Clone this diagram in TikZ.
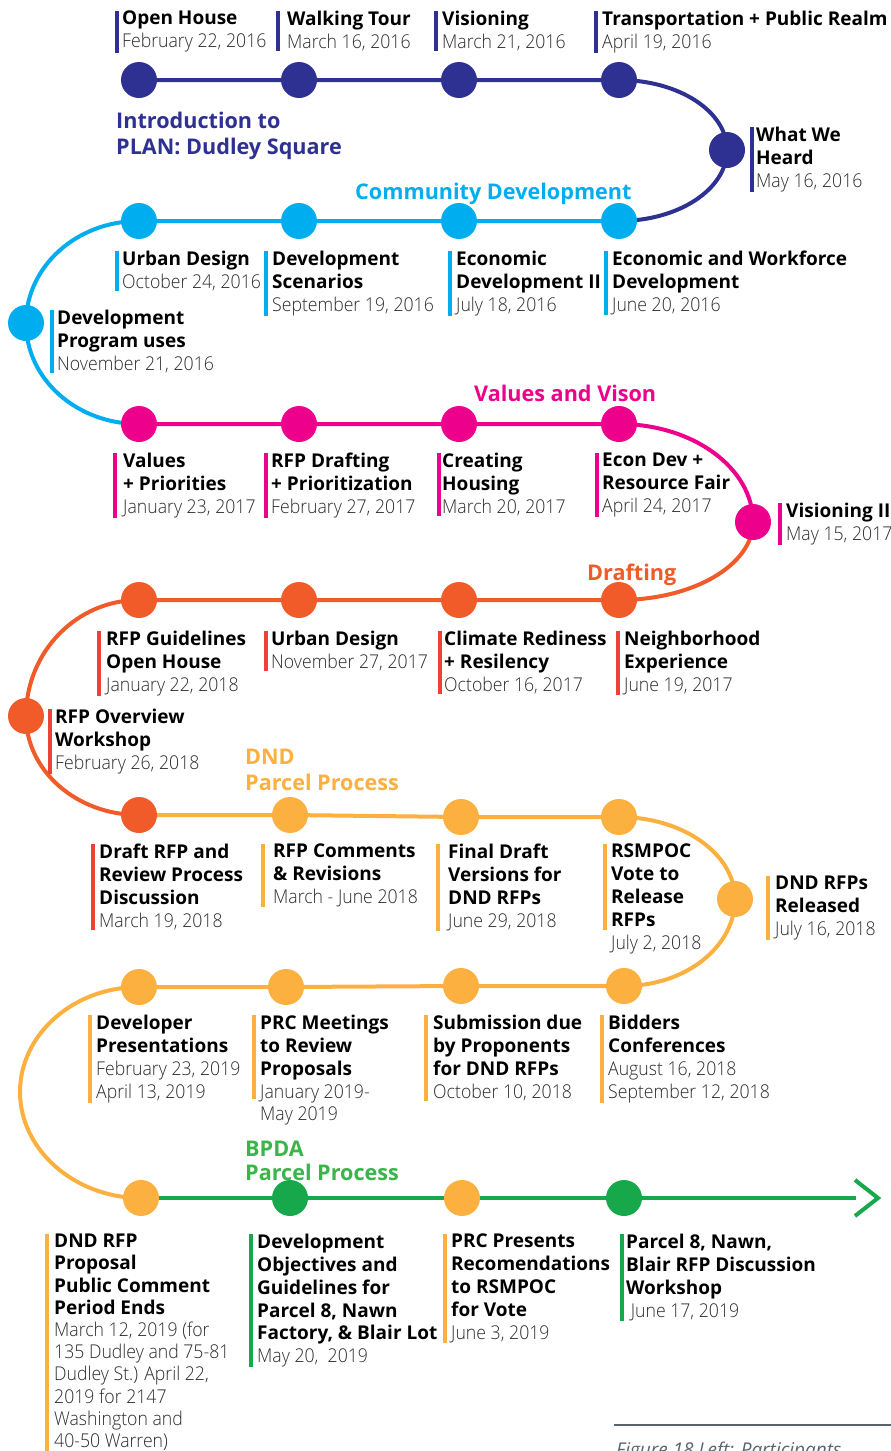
\documentclass[tikz,border=0pt]{standalone}
\usepackage{fontspec}
\setmainfont{Open Sans}
\IfFontExistsTF{Open Sans Light}{\newfontfamily\evlight{Open Sans Light}[FakeStretch=0.93]}{\newfontfamily\evlight{Open Sans}[FakeStretch=0.9]}
\usetikzlibrary{backgrounds}
\definecolor{cnavy}{HTML}{2E3192}
\definecolor{ccyan}{HTML}{00AEEF}
\definecolor{cmag}{HTML}{EC008C}
\definecolor{corg}{HTML}{F15A29}
\definecolor{cred}{HTML}{EF4136}
\definecolor{cyel}{HTML}{FBB040}
\definecolor{cgrn}{HTML}{17A84B}
\definecolor{cgrnt}{HTML}{39B54A}
\definecolor{cdate}{HTML}{2B2B2B}
\definecolor{cfig}{HTML}{58656F}
\newcommand\evt[1]{{\bfseries #1}}
\newcommand\evd[1]{{\evlight\color{cdate}#1}}
\newcommand\evbar[3][5]{\draw[line width=4pt,#3] ([xshift=-#1pt]#2.north west) -- ([xshift=-#1pt]#2.south west);}
\tikzset{
  dot/.style={circle,fill=#1,minimum size=36pt,inner sep=0pt},
  track/.style={line width=4pt,draw=#1},
  lab/.style={anchor=north west,align=left,inner sep=0pt,font=\fontsize{19}{22.8}\selectfont},
  cat/.style={anchor=north west,align=left,inner sep=0pt,text=#1,font=\fontsize{21.6}{25.8}\selectfont\bfseries},
}
\begin{document}
\begin{tikzpicture}[x=1pt,y=-1pt]
\useasboundingbox (0,0) rectangle (891,1451);
% dots
\node[dot=cnavy] (a1) at (139,80) {};
\node[dot=cnavy] (a2) at (299,80) {};
\node[dot=cnavy] (a3) at (459,80) {};
\node[dot=cnavy] (a4) at (619,80) {};
\node[dot=cnavy] (ah) at (727,150) {};
\node[dot=ccyan] (b1) at (139,221) {};
\node[dot=ccyan] (b2) at (299,221) {};
\node[dot=ccyan] (b3) at (459,221) {};
\node[dot=ccyan] (b4) at (619,221) {};
\node[dot=ccyan] (bd) at (26,323) {};
\node[dot=cmag] (c1) at (139,424) {};
\node[dot=cmag] (c2) at (299,424) {};
\node[dot=cmag] (c3) at (459,424) {};
\node[dot=cmag] (c4) at (619,424) {};
\node[dot=cmag] (cv) at (753,522) {};
\node[dot=corg] (d1) at (139,600) {};
\node[dot=corg] (d2) at (299,600) {};
\node[dot=corg] (d3) at (459,600) {};
\node[dot=corg] (d4) at (619,600) {};
\node[dot=corg] (dr) at (26,716) {};
\node[dot=corg] (e1) at (139,815) {};
\node[dot=cyel] (e2) at (290,815) {};
\node[dot=cyel] (e3) at (461,817) {};
\node[dot=cyel] (e4) at (619,817) {};
\node[dot=cyel] (ed) at (735,899) {};
\node[dot=cyel] (f1) at (139,987) {};
\node[dot=cyel] (f2) at (286,987) {};
\node[dot=cyel] (f3) at (461,986) {};
\node[dot=cyel] (f4) at (624,986) {};
\coordinate (fl) at (20,1092);
\node[dot=cyel] (g1) at (141,1198) {};
\node[dot=cgrn] (g2) at (290,1198) {};
\node[dot=cyel] (g3) at (462,1198) {};
\node[dot=cgrn] (g4) at (624,1198) {};
\coordinate (gend) at (856,1198);
\coordinate (gtip) at (878,1198);
% connectors
\begin{scope}[on background layer]
\draw[track=cnavy] (a1.center) -- (a2.center) -- (a3.center) -- (a4.center)
  .. controls +(59.6,0) and +(0,-38.7) .. (ah.center)
  .. controls +(0,39.2) and +(59.6,0) .. (b4.center);
\draw[track=ccyan] (b4.center) -- (b3.center) -- (b2.center) -- (b1.center)
  .. controls +(-62.4,0) and +(0,-56.3) .. (bd.center)
  .. controls +(0,56) and +(-62.4,0) .. (c1.center);
\draw[track=cmag] (c1.center) -- (c2.center) -- (c3.center) -- (c4.center)
  .. controls +(74,0) and +(0,-54) .. (cv.center);
\draw[track=corg] (cv.center) .. controls +(0,43) and +(74,0) .. (d4.center)
  -- (d3.center) -- (d2.center) -- (d1.center)
  .. controls +(-62.4,0) and +(0,-64) .. (dr.center)
  .. controls +(0,54.7) and +(-62.4,0) .. (e1.center);
\draw[track=cyel] (e1.center) -- (e2.center) -- (e3.center) -- (e4.center)
  .. controls +(64,0) and +(0,-45) .. (ed.center)
  .. controls +(0,48) and +(61.3,0) .. (f4.center)
  -- (f3.center) -- (f2.center) -- (f1.center)
  .. controls +(-65,0) and +(0,-58) .. (fl)
  .. controls +(0,58) and +(-66,0) .. (g1.center);
\draw[track=cgrn] (g1.center) -- (g2.center) -- (g3.center) -- (g4.center) -- (gend);
\end{scope}
\draw[track=cgrn] ([shift={(-23,-18)}]gtip) -- (gtip) -- ([shift={(-23,18)}]gtip);
% category labels
\node[cat=cnavy] (k1) at (116,112) {Introduction to\\PLAN: Dudley Square};
\node[cat=ccyan] (k2) at (355,183) {Community Development};
\node[cat=cmag] (k3) at (474,385) {Values and Vison};
\node[cat=corg] (k4) at (587,564) {Drafting};
\node[cat=cyel] (k5) at (245,749) {DND\\Parcel Process};
\node[cat=cgrnt,font=\fontsize{21.6}{23.5}\selectfont\bfseries] (k6) at (245,1141) {BPDA\\Parcel Process};
% row 1
\node[lab] (l11) at (122,11) {\evt{Open House}\\\evd{February 22, 2016}};
\node[lab] (l12) at (287,11) {\evt{Walking Tour}\\\evd{March 16, 2016}};
\node[lab] (l13) at (442,11) {\evt{Visioning}\\\evd{March 21, 2016}};
\node[lab] (l14) at (602,11) {\evt{Transportation + Public Realm}\\\evd{April 19, 2016}};
\node[lab] (lh) at (756,127) {\evt{What We}\\\evt{Heard}\\\evd{May 16, 2016}};
\evbar{l11}{cnavy}\evbar[9]{l12}{cnavy}\evbar[6]{l13}{cnavy}\evbar[6]{l14}{cnavy}\evbar[4]{lh}{cnavy}
% row 2
\node[lab] (l21) at (122,251) {\evt{Urban Design}\\\evd{October 24, 2016}};
\node[lab] (l22) at (272,251) {\evt{Development}\\\evt{Scenarios}\\\evd{September 19, 2016}};
\node[lab] (l23) at (456,251) {\evt{Economic}\\\evt{Development II}\\\evd{July 18, 2016}};
\node[lab] (l24) at (612,251) {\evt{Economic and Workforce}\\\evt{Development}\\\evd{June 20, 2016}};
\node[lab] (ld) at (57,310) {\evt{Development}\\\evt{Program uses}\\\evd{November 21, 2016}};
\evbar{l21}{ccyan}\evbar[6]{l22}{ccyan}\evbar[6]{l23}{ccyan}\evbar[6]{l24}{ccyan}\evbar{ld}{ccyan}
% row 3
\node[lab] (l31) at (123,453) {\evt{Values}\\\evt{+ Priorities}\\\evd{January 23, 2017}};
\node[lab] (l32) at (271,453) {\evt{RFP Drafting}\\\evt{+ Prioritization}\\\evd{February 27, 2017}};
\node[lab] (l33) at (442,453) {\evt{Creating}\\\evt{Housing}\\\evd{March 20, 2017}};
\node[lab] (l34) at (602,453) {\evt{Econ Dev +}\\\evt{Resource Fair}\\\evd{April 24, 2017}};
\node[lab] (lv) at (786,503) {\evt{Visioning II}\\\evd{May 15, 2017}};
\evbar[8]{l31}{cmag}\evbar{l32}{cmag}\evbar[3]{l33}{cmag}\evbar{l34}{cmag}\evbar[6]{lv}{cmag}
% row 4
\node[lab] (l41) at (106,631) {\evt{RFP Guidelines}\\\evt{Open House}\\\evd{January 22, 2018}};
\node[lab] (l42) at (271,631) {\evt{Urban Design}\\\evd{November 27, 2017}};
\node[lab] (l43) at (444,631) {\evt{Climate Rediness}\\\evt{+ Resilency}\\\evd{October 16, 2017}};
\node[lab] (l44) at (624,631) {\evt{Neighborhood}\\\evt{Experience}\\\evd{June 19, 2017}};
\node[lab] (lr) at (55,709) {\evt{RFP Overview}\\\evt{Workshop}\\\evd{February 26, 2018}};
\evbar[7]{l41}{cred}\evbar{l42}{cred}\evbar[4]{l43}{cred}\evbar[6]{l44}{cred}\evbar{lr}{cred}
% row 5
\node[lab] (l51) at (99,844) {\evt{Draft RFP and}\\\evt{Review Process}\\\evt{Discussion}\\\evd{March 19, 2018}};
\node[lab] (l52) at (273,844) {\evt{RFP Comments}\\\evt{\& Revisions}\\\evd{March - June 2018}};
\node[lab] (l53) at (448,844) {\evt{Final Draft}\\\evt{Versions for}\\\evt{DND RFPs}\\\evd{June 29, 2018}};
\node[lab] (l54) at (611,844) {\evt{RSMPOC}\\\evt{Vote to}\\\evt{Release}\\\evt{RFPs}\\\evd{July 2, 2018}};
\node[lab] (ldd) at (775,876) {\evt{DND RFPs}\\\evt{Released}\\\evd{July 16, 2018}};
\evbar[6]{l51}{cred}\evbar[10]{l52}{cyel}\evbar[10]{l53}{cyel}\evbar[7]{ldd}{cyel}
\draw[line width=4pt,cyel] ([xshift=-6pt]l54.north west) -- +(0,86);
% row 6
\node[lab] (l61) at (96,1015) {\evt{Developer}\\\evt{Presentations}\\\evd{February 23, 2019}\\\evd{April 13, 2019}};
\node[lab] (l62) at (260,1015) {\evt{PRC Meetings}\\\evt{to Review}\\\evt{Proposals}\\\evd{January 2019-}\\\evd{May 2019}};
\node[lab] (l63) at (433,1015) {\evt{Submission due}\\\evt{by Proponents}\\\evt{for DND RFPs}\\\evd{October 10, 2018}};
\node[lab] (l64) at (608,1015) {\evt{Bidders}\\\evt{Conferences}\\\evd{August 16, 2018}\\\evd{September 12, 2018}};
\evbar[6]{l61}{cyel}\evbar[7]{l63}{cyel}\evbar[6]{l64}{cyel}
\draw[line width=4pt,cyel] ([xshift=-6pt]l62.north west) -- +(0,84);
% row 7
\node[lab,font=\fontsize{19}{22.2}\selectfont] (l71) at (54,1234) {\evt{DND RFP}\\\evt{Proposal}\\\evt{Public Comment}\\\evt{Period Ends}\\\evd{March 12, 2019 (for}\\\evd{135 Dudley and 75-81}\\\evd{Dudley St.) April 22,}\\\evd{2019 for 2147}\\\evd{Washington and}\\\evd{40-50 Warren)}};
\node[lab] (l72) at (257,1234) {\evt{Development}\\\evt{Objectives and}\\\evt{Guidelines for}\\\evt{Parcel 8, Nawn}\\\evt{Factory, \& Blair Lot}\\\evd{May 20,\ \ 2019}};
\node[lab] (l73) at (451,1234) {\evt{PRC Presents}\\\evt{Recomendations}\\\evt{to RSMPOC}\\\evt{for Vote}\\\evd{June 3, 2019}};
\node[lab] (l74) at (626,1234) {\evt{Parcel 8, Nawn,}\\\evt{Blair RFP Discussion}\\\evt{Workshop}\\\evd{\ June 17, 2019}};
\evbar[7]{l71}{cyel}\evbar[6]{l72}{cgrn}\evbar[6]{l73}{cyel}\evbar[4]{l74}{cgrn}
% figure caption (cut off by the page edge)
\begin{scope}
\clip (0,0) rectangle (891,1451);
\coordinate (fg1) at (614,1425);
\coordinate (fg2) at (891,1425);
\draw[line width=2pt,cfig] (fg1) -- (fg2);
\node[anchor=north west,inner sep=0pt,text=cfig,font=\fontsize{19}{23}\selectfont\itshape] (fig) at (616,1442) {Figure 18 Left: Participants};
\end{scope}
\end{tikzpicture}
\end{document}
